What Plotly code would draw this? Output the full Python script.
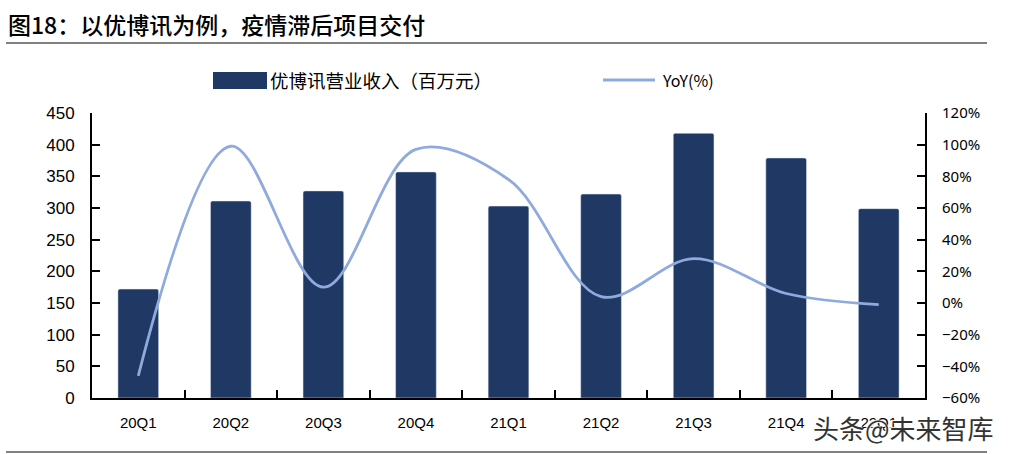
import plotly.graph_objects as go

quarters = ["20Q1", "20Q2", "20Q3", "20Q4", "21Q1", "21Q2", "21Q3", "21Q4", "22Q1"]
revenue = [172, 311, 327, 357, 303, 322, 418, 379, 299]
yoy = [-46, 99, 10, 97, 78, 4, 28, 6, -1]

bar_name = "优博讯营业收入（百万元）"
line_name = "YoY(%)"
title_text = "图18：以优博讯为例，疫情滞后项目交付"
watermark = "头条@未来智库"

W, H = 1010, 454
L, R, T, B = 92, 925, 113, 398

def px(x):
    return (x - L) / (R - L)

def py(y):
    return (B - y) / (B - T)

BAR_COLOR = "#203864"
LINE_COLOR = "#8FAADC"

fig = go.Figure()
fig.add_trace(go.Bar(x=quarters, y=revenue, name=bar_name, marker=dict(color=BAR_COLOR, cornerradius=2),
                     width=0.44, showlegend=False))
fig.add_trace(go.Scatter(x=quarters, y=yoy, name=line_name, yaxis="y2", mode="lines",
                         line=dict(color=LINE_COLOR, width=2.8, shape="spline", smoothing=1.0),
                         showlegend=False))

tickfont = dict(family="Liberation Sans, Arial", size=17, color="#000")

fig.update_layout(
    width=W, height=H,
    margin=dict(l=L, r=W - R, t=T, b=H - B, pad=0),
    paper_bgcolor="white", plot_bgcolor="white",
    xaxis=dict(type="category", showline=True, linecolor="black", linewidth=2,
               ticks="inside", tickson="boundaries", ticklen=8, tickcolor="black", tickwidth=1.5,
               tickfont=dict(family="Liberation Sans, Arial", size=15, color="#000"),
               showgrid=False, zeroline=False, ticklabelstandoff=10),
    yaxis=dict(range=[0, 450], dtick=50, showline=True, linecolor="black", linewidth=2,
               ticks="inside", ticklen=8, tickcolor="black", tickwidth=1.5,
               tickfont=tickfont, showgrid=False, zeroline=False, ticklabelstandoff=12),
    yaxis2=dict(range=[-60, 120], dtick=20, overlaying="y", side="right", showline=True,
                linecolor="black", linewidth=2, ticks="inside", ticklen=8, tickcolor="black",
                tickwidth=1.5, ticksuffix="%", showgrid=False, zeroline=False,
                tickfont=dict(family="Noto Sans, DejaVu Sans", size=15, color="#000"),
                ticklabelstandoff=12),
    bargap=0.5,
)

shapes = [
    dict(type="line", xref="paper", yref="paper", x0=px(6), x1=px(987), y0=py(43), y1=py(43),
         line=dict(color="#808080", width=2)),
    dict(type="line", xref="paper", yref="paper", x0=px(6), x1=px(987), y0=py(452), y1=py(452),
         line=dict(color="#808080", width=2)),
    dict(type="rect", xref="paper", yref="paper", x0=px(213), x1=px(267), y0=py(72), y1=py(89),
         fillcolor=BAR_COLOR, line=dict(width=0)),
    dict(type="line", xref="paper", yref="paper", x0=px(603), x1=px(655), y0=py(80), y1=py(80),
         line=dict(color=LINE_COLOR, width=3)),
]
annotations = [
    dict(text=title_text, xref="paper", yref="paper", x=px(6), y=py(24), xanchor="left",
         yanchor="middle", showarrow=False,
         font=dict(family="Noto Sans CJK SC", size=23, color="#000", weight=500)),
    dict(text=bar_name, xref="paper", yref="paper", x=px(268), y=py(80), xanchor="left",
         yanchor="middle", showarrow=False,
         font=dict(family="Noto Sans CJK SC", size=18.5, color="#000")),
    dict(text=line_name, xref="paper", yref="paper", x=px(660), y=py(80), xanchor="left",
         yanchor="middle", showarrow=False,
         font=dict(family="Noto Sans CJK SC", size=16, color="#000")),
    dict(text=watermark, xref="paper", yref="paper", x=px(811), y=py(428), xanchor="left",
         yanchor="middle", showarrow=False,
         font=dict(family="Noto Sans CJK SC", size=26, color="#333",
                   shadow="1px 1px 1px white, -1px -1px 1px white")),
]
fig.update_layout(shapes=shapes, annotations=annotations)

fig.write_html("out.html", config={"displayModeBar": False},
               post_script="document.body.style.margin='0';document.body.style.padding='0';")
